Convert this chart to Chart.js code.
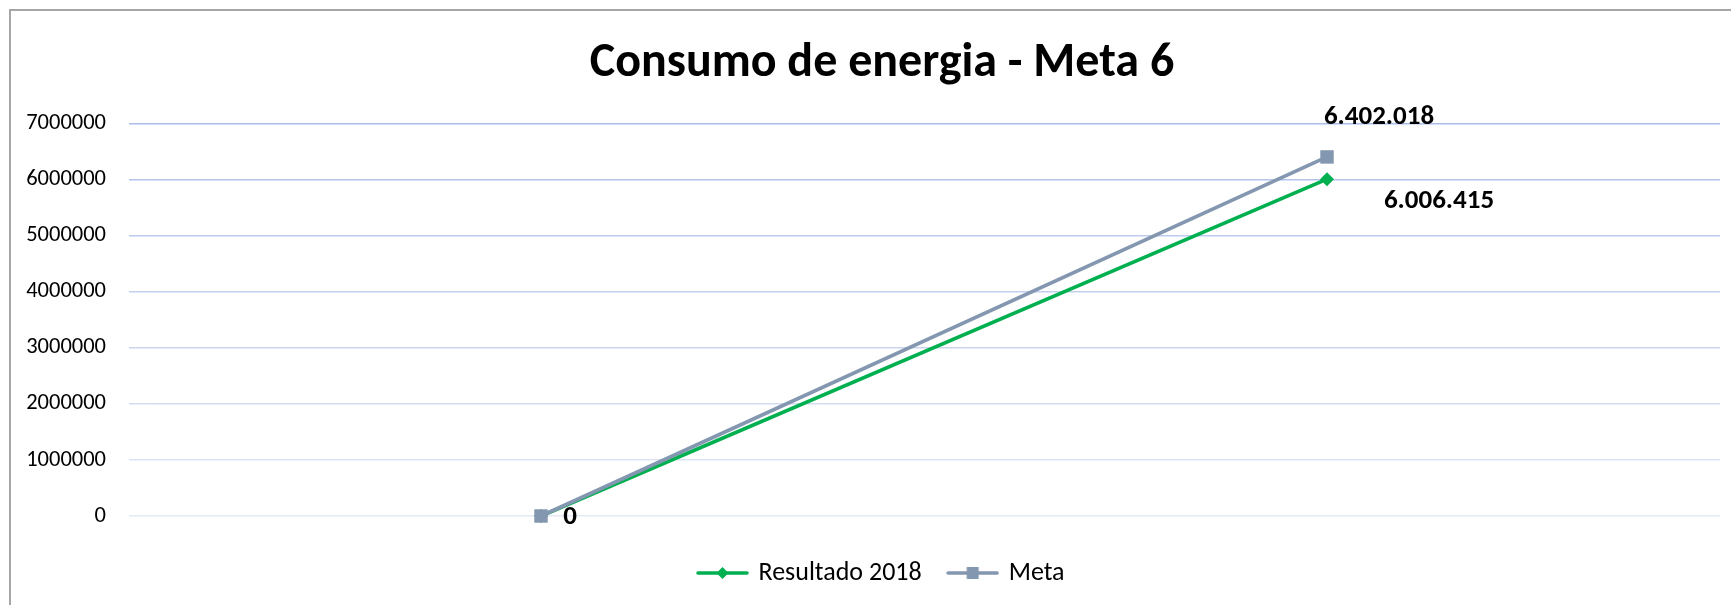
<!DOCTYPE html>
<html>
<head>
<meta charset="utf-8">
<script src="https://cdn.jsdelivr.net/npm/chart.js@4.4.1/dist/chart.umd.min.js"></script>
<style>
    html, body { margin: 0; padding: 0; background: #fff; overflow: hidden; }
    #frame {
        position: absolute; left: 9px; top: 9px;
        width: 1742px; height: 620px;
        border-left: 2px solid #a6a6a6; border-top: 2px solid #a6a6a6;
    }
    #frame canvas { display: block; }
</style>
</head>
<body>
<div id="frame"><canvas id="energyChart" width="1742" height="596"></canvas></div>
<script>
// Chart data
const categories = ['', ''];
const resultado2018 = [0, 6006415];
const meta = [0, 6402018];
const yTicks = [0, 1000000, 2000000, 3000000, 4000000, 5000000, 6000000, 7000000];

const FONT = 'Calibri, Carlito, Lato, sans-serif';
const GREEN = '#00b050';
const GREY = '#8497b0';

// gridline colours fade from top to bottom (like the excel original)
const gridColors = ['#e4e9f6', '#dde3f4', '#d4dcf1', '#cbd5ef', '#c3d0ee', '#bccbee', '#b2c4ec', '#a9bde9'];

function formatNum(v) {
    return v.toString().replace(/\B(?=(\d{3})+(?!\d))/g, '.');
}

// small canvas used as legend symbol: line with marker in the middle
function legendSymbol(color, marker) {
    const c = document.createElement('canvas');
    c.width = 53;
    c.height = 16;
    const g = c.getContext('2d');
    g.strokeStyle = color;
    g.lineWidth = 3.5;
    g.lineCap = 'round';
    g.beginPath();
    g.moveTo(2, 8);
    g.lineTo(51, 8);
    g.stroke();
    g.fillStyle = color;
    if (marker === 'rectRot') {
        g.beginPath();
        g.moveTo(26.5, 2);
        g.lineTo(32.5, 8);
        g.lineTo(26.5, 14);
        g.lineTo(20.5, 8);
        g.closePath();
        g.fill();
    } else {
        g.fillRect(20.5, 2, 12, 12);
    }
    return c;
}

// data labels plugin
const valueLabels = {
    id: 'valueLabels',
    afterDatasetsDraw(chart, args, opts) {
        const ctx = chart.ctx;
        ctx.save();
        ctx.font = 'bold 27px ' + FONT;
        ctx.fillStyle = '#000';
        ctx.textAlign = 'center';
        ctx.textBaseline = 'middle';
        chart.data.datasets.forEach((ds, i) => {
            const meta = chart.getDatasetMeta(i);
            const offsets = opts.offsets[i];
            meta.data.forEach((pt, j) => {
                const off = offsets[j];
                if (!off) return;
                ctx.fillText(formatNum(ds.data[j]), pt.x + off[0], pt.y + off[1]);
            });
        });
        ctx.restore();
    }
};

const ctx = document.getElementById('energyChart');
const chart = new Chart(ctx, {
    type: 'line',
    data: {
        labels: categories,
        datasets: [
            {
                label: 'Resultado 2018',
                data: resultado2018,
                order: 1,
                clip: false,
                borderColor: GREEN,
                backgroundColor: GREEN,
                borderWidth: 3.6,
                pointStyle: 'rectRot',
                pointRadius: 7,
                pointBorderWidth: 0,
                pointHoverRadius: 7
            },
            {
                label: 'Meta',
                data: meta,
                order: 0,
                clip: false,
                borderColor: GREY,
                backgroundColor: GREY,
                borderWidth: 3.6,
                pointStyle: 'rect',
                pointRadius: 9.5,
                pointBorderWidth: 0,
                pointHoverRadius: 9.5
            }
        ]
    },
    options: {
        responsive: false,
        animation: false,
        layout: { padding: { left: 0, right: 0, top: 0, bottom: 11 } },
        plugins: {
            title: {
                display: true,
                text: 'Consumo de energia - Meta 6',
                color: '#000',
                font: { family: FONT, size: 48, weight: 'bold' },
                padding: { top: 24.5, bottom: 30.3 }
            },
            legend: {
                position: 'bottom',
                labels: {
                    color: '#000',
                    font: { family: FONT, size: 26 },
                    usePointStyle: true,
                    pointStyleWidth: 46,
                    padding: 28,
                    generateLabels(chart) {
                        return chart.data.datasets.map((ds, i) => ({
                            text: ds.label,
                            datasetIndex: i,
                            fontColor: '#000',
                            pointStyle: legendSymbol(ds.borderColor, ds.pointStyle),
                            lineWidth: 0
                        }));
                    }
                }
            },
            tooltip: { enabled: false },
            valueLabels: {
                offsets: [
                    [[29, 1], [112, 22]],
                    [null, [52, -40]]
                ]
            }
        },
        scales: {
            x: {
                offset: true,
                grid: { display: false },
                border: { display: false },
                ticks: { display: false },
                afterFit(scale) { scale.height = 16; }
            },
            y: {
                min: 0,
                max: 7000000,
                afterBuildTicks(scale) {
                    scale.ticks = yTicks.map(v => ({ value: v }));
                },
                afterFit(scale) { scale.width = 137; },
                border: { display: false },
                grid: {
                    color: c => gridColors[yTicks.indexOf(c.tick.value)] || '#d9e1f2',
                    lineWidth: 1.5,
                    tickLength: 19
                },
                ticks: {
                    color: '#000',
                    padding: 23,
                    font: { family: FONT, size: 22.5 },
                    callback: v => String(v)
                }
            },
            // empty right-hand axis, only keeps a gap after the plot area
            yRight: {
                position: 'right',
                grid: { display: false },
                border: { display: false },
                ticks: { display: false },
                afterFit(scale) { scale.width = 33; }
            }
        }
    },
    plugins: [valueLabels]
});
</script>
</body>
</html>
